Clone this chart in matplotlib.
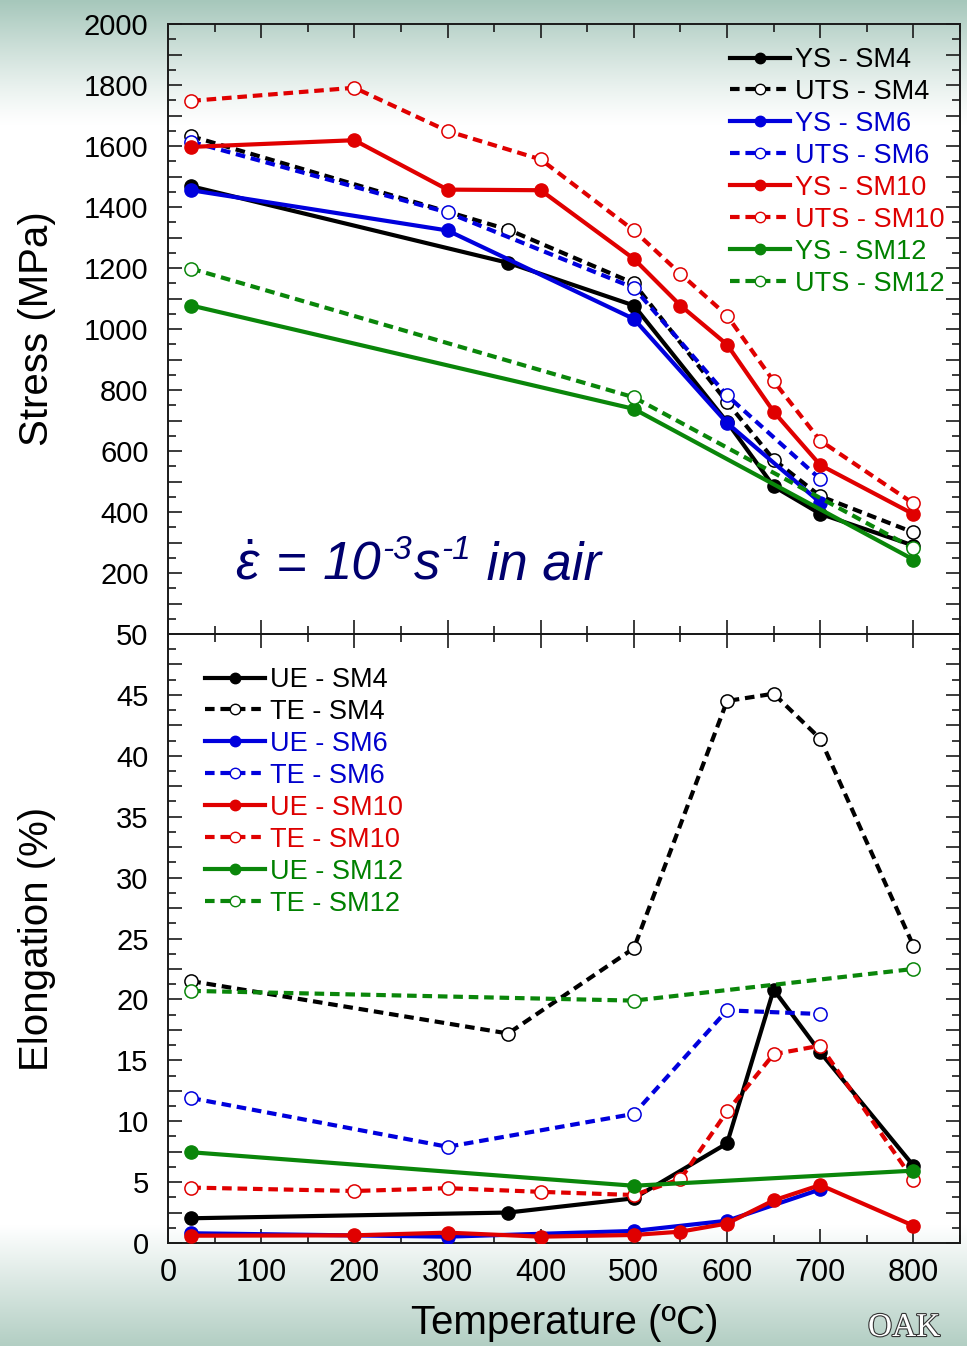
import numpy as np
import matplotlib
matplotlib.use("Agg")
import matplotlib.pyplot as plt
from matplotlib.ticker import MultipleLocator, FuncFormatter
from matplotlib.lines import Line2D
import matplotlib.patheffects as pe

plt.rcParams['font.family'] = ['Liberation Sans', 'DejaVu Sans']
plt.rcParams['mathtext.fontset'] = 'custom'
plt.rcParams['mathtext.rm'] = 'Liberation Sans'
plt.rcParams['mathtext.it'] = 'Liberation Sans:italic'
plt.rcParams['mathtext.bf'] = 'Liberation Sans:bold'

# ---------------- data ----------------
T_SM4 = [25, 365, 500, 600, 650, 700, 800]
T_SM6 = [25, 300, 500, 600, 700]
T_SM10 = [25, 200, 300, 400, 500, 550, 600, 650, 700, 800]
T_SM12 = [25, 500, 800]

YS_SM4 = [1468, 1217, 1077, 695, 484, 394, 290]
UTS_SM4 = [1632, 1326, 1150, 760, 572, 452, 333]
YS_SM6 = [1455, 1323, 1033, 692, 431]
UTS_SM6 = [1614, 1382, 1135, 782, 508]
YS_SM10 = [1597, 1619, 1457, 1455, 1230, 1077, 949, 729, 554, 393]
UTS_SM10 = [1748, 1791, 1649, 1556, 1323, 1181, 1044, 829, 634, 428]
YS_SM12 = [1077, 738, 244]
UTS_SM12 = [1198, 776, 281]

UE_SM4 = [2.03, 2.5, 3.67, 8.18, 20.8, 15.66, 6.35]
TE_SM4 = [21.5, 17.2, 24.2, 44.5, 45.1, 41.4, 24.4]
UE_SM6 = [0.8, 0.52, 0.99, 1.83, 4.4]
TE_SM6 = [11.9, 7.9, 10.6, 19.1, 18.8]
UE_SM10 = [0.6, 0.63, 0.85, 0.52, 0.66, 0.93, 1.6, 3.5, 4.76, 1.42]
TE_SM10 = [4.55, 4.27, 4.5, 4.2, 3.94, 5.25, 10.8, 15.5, 16.2, 5.17]
UE_SM12 = [7.45, 4.7, 5.94]
TE_SM12 = [20.7, 19.9, 22.5]

alloys = ['SM4', 'SM6', 'SM10', 'SM12']
line_colors = ['#000000', '#0000dd', '#e00000', '#0a860a']
text_colors = ['#000000', '#0000cc', '#dd0000', '#008000']

# ---------------- figure ----------------
W, H = 967, 1346
fig = plt.figure(figsize=(W / 100, H / 100), dpi=100)

# soft tinted band at the top and bottom of the page
bg = fig.add_axes([0, 0, 1, 1], zorder=-10)
rows = np.arange(H, dtype=float)
top_c = np.array([166, 199, 187]) / 255.0
bot_c = np.array([178, 206, 195]) / 255.0
w_top = np.clip(1 - rows / 125.0, 0, 1) ** 1.2
w_bot = np.clip((rows - 1225) / 121.0, 0, 1) ** 1.0
img = np.ones((H, 1, 3))
for k in range(3):
    img[:, 0, k] = 1 - w_top * (1 - top_c[k]) - w_bot * (1 - bot_c[k])
bg.imshow(img, aspect='auto', extent=[0, 1, 0, 1], interpolation='bilinear')
bg.axis('off')

L, R = 168 / W, 960 / W
y_top, y_mid, y_bot = 24, 634, 1243
ax1 = fig.add_axes([L, 1 - y_mid / H, R - L, (y_mid - y_top) / H])
ax2 = fig.add_axes([L, 1 - y_bot / H, R - L, (y_bot - y_mid) / H])

DASH = (0, (2.3, 1.4))


def style_axes(ax):
    ax.set_facecolor('none')
    for s in ax.spines.values():
        s.set_linewidth(1.4)
        s.set_color('#1a1a1a')
    ax.set_xlim(0, 850)
    ax.xaxis.set_major_locator(MultipleLocator(100))
    ax.xaxis.set_minor_locator(MultipleLocator(50))
    ax.tick_params(which='both', direction='in', top=True, right=True,
                   width=1.2, color='#1a1a1a')
    ax.tick_params(which='major', length=10)
    ax.tick_params(which='minor', length=6)
    ax.tick_params(axis='y', labelsize=21, pad=14)
    ax.tick_params(axis='x', labelsize=22, pad=11)


def draw_pair(ax, T, solid, dashed, color, z):
    ax.plot(T, solid, '-', color=color, lw=3, marker='o', ms=9.5,
            mfc=color, mec=color, zorder=z, solid_joinstyle='round')
    ax.plot(T, dashed, color=color, lw=3, ls=DASH, marker='o', ms=9.5,
            mfc='white', mec=color, mew=1.1, zorder=z + 0.5)


style_axes(ax1)
style_axes(ax2)

# --- stress panel ---
ax1.set_ylim(0, 2000)
ax1.yaxis.set_major_locator(MultipleLocator(100))
ax1.yaxis.set_minor_locator(MultipleLocator(50))
ax1.yaxis.set_major_formatter(FuncFormatter(
    lambda v, p: '%d' % v if (v > 0 and int(round(v)) % 200 == 0) else ''))
ax1.tick_params(axis='x', labelbottom=False)

stress_T = [T_SM4, T_SM6, T_SM10, T_SM12]
stress_ys = [YS_SM4, YS_SM6, YS_SM10, YS_SM12]
stress_uts = [UTS_SM4, UTS_SM6, UTS_SM10, UTS_SM12]
for i, (T, a, b) in enumerate(zip(stress_T, stress_ys, stress_uts)):
    draw_pair(ax1, T, a, b, line_colors[i], 3 + i)

# --- elongation panel ---
ax2.set_ylim(0, 50)
ax2.yaxis.set_major_locator(MultipleLocator(2.5))
ax2.yaxis.set_minor_locator(MultipleLocator(1.25))
ax2.yaxis.set_major_formatter(FuncFormatter(
    lambda v, p: '%d' % round(v) if abs(v / 5 - round(v / 5)) < 1e-6 else ''))
ax2.xaxis.set_major_formatter(FuncFormatter(
    lambda v, p: '%d' % v if v <= 800 else ''))

elong_ue = [UE_SM4, UE_SM6, UE_SM10, UE_SM12]
elong_te = [TE_SM4, TE_SM6, TE_SM10, TE_SM12]
for i, (T, a, b) in enumerate(zip(stress_T, elong_ue, elong_te)):
    draw_pair(ax2, T, a, b, line_colors[i], 3 + i)


# --- legends ---
def make_legend(ax, solid_name, dashed_name, anchor):
    handles, labels, tcols = [], [], []
    for a, c, tc in zip(alloys, line_colors, text_colors):
        handles.append(Line2D([], [], color=c, lw=3, marker='o', ms=7.5,
                              mfc=c, mec=c))
        labels.append('%s - %s' % (solid_name, a))
        tcols.append(tc)
        handles.append(Line2D([], [], color=c, lw=3, ls=DASH, marker='o',
                              ms=7.5, mfc='white', mec=c, mew=1.0))
        labels.append('%s - %s' % (dashed_name, a))
        tcols.append(tc)
    leg = ax.legend(handles, labels, loc='upper left', bbox_to_anchor=anchor,
                    bbox_transform=fig.transFigure, frameon=False,
                    borderpad=0, borderaxespad=0, handlelength=2.2,
                    handletextpad=0.2, labelspacing=0.22, fontsize=19.5)
    for t, c in zip(leg.get_texts(), tcols):
        t.set_color(c)
    return leg


make_legend(ax1, 'YS', 'UTS', (730 / W, 1 - 47 / H))
make_legend(ax2, 'UE', 'TE', (205 / W, 1 - 667 / H))

# --- labels ---
fig.text(37 / W, 1 - 329 / H, 'Stress (MPa)', rotation=90, ha='center',
         va='center', fontsize=29)
fig.text(37 / W, 1 - 939 / H, 'Elongation (%)', rotation=90, ha='center',
         va='center', fontsize=29)
fig.text(565 / W, 1 - 1323 / H, 'Temperature (\u00baC)', ha='center',
         va='center', fontsize=29)

# strain-rate note, written piece by piece so the exponents sit raised
NAVY = '#00006e'
note_pieces = [
    (r'$\dot{\varepsilon}$', 38, 0, 'normal'),
    (' = ', 38, 0, 'normal'),
    ('10', 38, 0, 'italic'),
    ('-3', 24, 21, 'italic'),
    ('s', 38, 0, 'italic'),
    ('-1', 24, 21, 'italic'),
    (' in air', 38, 0, 'italic'),
]
renderer = fig.canvas.get_renderer()
cur_x = 235.0
base_y = H - 580.0
for txt, size, dy, style in note_pieces:
    t = fig.text(cur_x / W, (base_y + dy) / H, txt, fontsize=size,
                 style=style, color=NAVY, ha='left', va='baseline')
    cur_x = t.get_window_extent(renderer).x1 + 1

# small logo text in the lower right corner
fig.text(868 / W, 1 - 1336 / H, 'OAK', family='Liberation Serif',
         fontsize=24, color='white', ha='left', va='baseline',
         path_effects=[pe.withStroke(linewidth=1.6, foreground='#333333')])

fig.savefig('out.png', dpi=100)
